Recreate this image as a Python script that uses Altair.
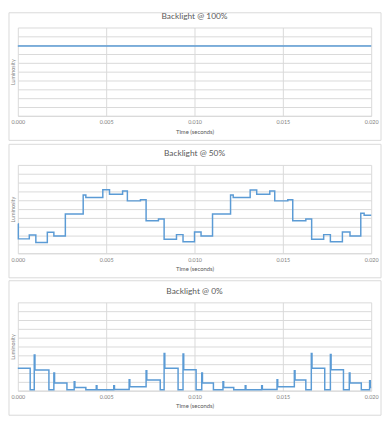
import altair as alt
import pandas as pd

# ---- data ----
t100 = [0.0, 0.02]
v100 = [7.9, 7.9]

t50 = [0.00000, 0.00003, 0.00065, 0.00102, 0.00167, 0.00204, 0.00269, 0.00370, 0.00385,
       0.00481, 0.00519, 0.00593, 0.00620, 0.00694, 0.00726, 0.00796, 0.00828, 0.00898,
       0.00935, 0.01000, 0.01037, 0.01102, 0.01204, 0.01219, 0.01315, 0.01352, 0.01426,
       0.01454, 0.01528, 0.01556, 0.01630, 0.01663, 0.01731, 0.01769, 0.01837, 0.01880,
       0.01941, 0.01960, 0.02000]
v50 = [3.30, 1.63, 2.07, 1.22, 2.37, 1.96, 4.44, 6.60, 6.30,
       7.19, 6.67, 7.04, 5.93, 6.05, 3.67, 3.89, 1.59, 2.11,
       1.30, 2.40, 1.96, 4.44, 6.60, 6.30, 7.15, 6.67, 7.04,
       5.93, 6.05, 3.67, 3.89, 1.59, 2.11, 1.30, 2.40, 1.96,
       4.52, 4.30, 4.30]

t0 = [0.00000, 0.00070, 0.00093, 0.00097, 0.00176, 0.00204, 0.00208, 0.00278, 0.00319,
      0.00323, 0.00385, 0.00444, 0.00448, 0.00543, 0.00547, 0.00630, 0.00634, 0.00726,
      0.00730, 0.00806, 0.00828, 0.00832, 0.00907, 0.00935, 0.00939, 0.01009, 0.01041,
      0.01045, 0.01107, 0.01161, 0.01165, 0.01222, 0.01287, 0.01291, 0.01380, 0.01384,
      0.01467, 0.01471, 0.01565, 0.01569, 0.01630, 0.01661, 0.01665, 0.01737, 0.01769,
      0.01773, 0.01843, 0.01876, 0.01880, 0.01944, 0.01991, 0.01995, 0.02000]
v0 = [2.55, 0.10, 4.05, 2.35, 0.10, 2.00, 0.86, 0.10, 1.00,
      0.37, 0.10, 0.56, 0.10, 0.56, 0.13, 1.24, 0.45, 2.25,
      1.20, 0.10, 4.20, 2.55, 0.10, 4.15, 2.36, 0.10, 2.00,
      0.86, 0.10, 1.00, 0.37, 0.10, 0.56, 0.10, 0.56, 0.13,
      1.24, 0.45, 2.25, 1.20, 0.10, 4.20, 2.55, 0.10, 4.10,
      2.36, 0.10, 2.00, 0.86, 0.10, 1.12, 0.37, 0.37]

titles = ["Backlight @ 100%", "Backlight @ 50%", "Backlight @ 0%"]
x_ticks = [0.0, 0.005, 0.010, 0.015, 0.020]
y_grid = list(range(11))

W, H = 360, 90
LINE = "#5B9BD5"
GRID = "#D9D9D9"


def panel(ts, vs, title, top):
    df = pd.DataFrame({"t": ts, "v": vs})
    tdf = pd.DataFrame({"title": [title]})
    border = alt.Chart(tdf).mark_rect(fill="transparent", stroke=GRID, strokeWidth=1).encode(
        x=alt.value(-9), x2=alt.value(W + 10), y=alt.value(top), y2=alt.value(H + 25)
    )
    head = alt.Chart(tdf).mark_text(fontSize=8.5, color="#595959", align="center",
                                    baseline="middle").encode(
        text="title:N", x=alt.value(W / 2), y=alt.value(-12)
    )
    line = alt.Chart(df).mark_line(color=LINE, strokeWidth=1.5, interpolate="step-after").encode(
        x=alt.X("t:Q", scale=alt.Scale(domain=[0, 0.02], nice=False),
                axis=alt.Axis(values=x_ticks, format=".3f", title="Time (seconds)",
                              labelFlush=False, ticks=False, domainColor=GRID,
                              gridColor=GRID, labelFontSize=5.5, labelColor="#7F7F7F",
                              labelPadding=4, titleFontSize=6, titleColor="#595959",
                              titleFontWeight="normal", titlePadding=3)),
        y=alt.Y("v:Q", scale=alt.Scale(domain=[0, 10], nice=False),
                axis=alt.Axis(values=y_grid, labels=False, ticks=False, domain=False,
                              gridColor=GRID, title="Luminosity", titleFontSize=5.5,
                              titleColor="#7F7F7F", titleFontWeight="normal",
                              titlePadding=2)),
    )
    return alt.layer(border, line, head).properties(width=W, height=H)


chart = alt.vconcat(
    panel(t100, v100, titles[0], -15),
    panel(t50, v50, titles[1], -21),
    panel(t0, v0, titles[2], -22),
    spacing=50,
    bounds="flush",
).configure(font="Lato", padding=0).configure_view(stroke=None)

chart.save("out.html", embed_options={"renderer": "svg", "actions": False})
